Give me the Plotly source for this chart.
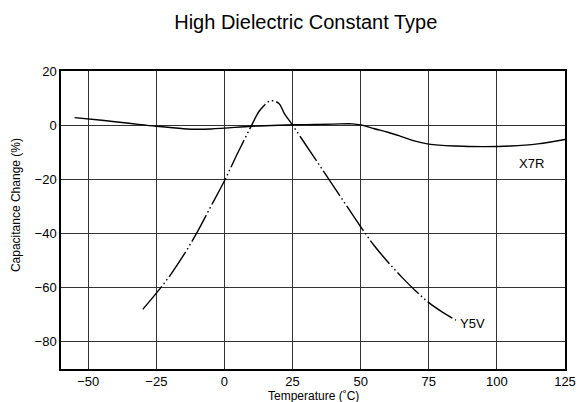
import plotly.graph_objects as go

# X7R curve (temperature in C, capacitance change in %)
x7r_temp = [-55, -45, -35, -25, -15, -10, -5, 0, 10, 20, 30, 40, 47, 50, 55, 60, 65, 70, 75, 85, 95, 105, 115, 125]
x7r_cap = [2.8, 1.8, 0.7, -0.4, -1.3, -1.5, -1.4, -1.1, -0.4, 0.0, 0.2, 0.4, 0.5, 0.1, -1.3, -2.6, -4.2, -5.9, -7.0, -7.7, -7.9, -7.7, -6.9, -5.3]

# Y5V curve
y5v_temp = [-30, -25, -20, -15, -10, -5, 0, 5, 10, 13, 17, 20, 22, 25, 30, 35, 40, 45, 50, 55, 60, 65, 70, 75, 80, 85]
y5v_cap = [-68, -62, -55.5, -48, -39.5, -30, -20.5, -10, 0, 5.5, 9, 8, 4.3, 0, -7.5, -15, -22.5, -30, -37.5, -44.5, -50.5, -56, -61, -65.5, -69, -72]

x_ticks = [-50, -25, 0, 25, 50, 75, 100, 125]
y_ticks = [20, 0, -20, -40, -60, -80]

fig = go.Figure()
fig.add_trace(go.Scatter(
    x=x7r_temp, y=x7r_cap, mode="lines",
    line=dict(color="black", width=1.4, shape="spline", smoothing=1.0),
    name="X7R", showlegend=False,
))
fig.add_trace(go.Scatter(
    x=y5v_temp, y=y5v_cap, mode="lines",
    line=dict(color="black", width=1.4, shape="spline", smoothing=1.0,
              dash="30px,3px,1.5px,3px,1.5px,3px"),
    name="Y5V", showlegend=False,
))

# curve labels
fig.add_annotation(x=112.8, y=-14.2, text="X7R", showarrow=False,
                   font=dict(size=13, color="black"))
fig.add_annotation(x=91.2, y=-73.2, text="Y5V", showarrow=False,
                   font=dict(size=13, color="black"))

# axis titles as annotations (placed like the original)
fig.add_annotation(xref="paper", yref="paper", x=-0.0893, y=0.55, text="Capacitance Change (%)",
                   textangle=-90, showarrow=False, xanchor="center", yanchor="middle",
                   font=dict(size=12, color="black"))
fig.add_annotation(xref="paper", yref="paper", x=0.5, y=-0.089, text="Temperature (˚C)",
                   showarrow=False, xanchor="center", yanchor="middle",
                   font=dict(size=12, color="black"))

axis_common = dict(
    showgrid=True, gridcolor="#333333", gridwidth=1,
    showline=True, linecolor="black", linewidth=1.5, mirror=True,
    zeroline=False, ticks="", tickfont=dict(size=13, color="black"),
)

fig.update_xaxes(range=[-60, 125], tickvals=x_ticks, **axis_common)
fig.update_yaxes(range=[-90, 20], tickvals=y_ticks, **axis_common)

# page body has an 8px margin, so the figure is a little smaller than the window
fig.update_layout(
    width=579, height=394,
    margin=dict(l=53, r=11, t=63, b=33),
    paper_bgcolor="white", plot_bgcolor="white",
    font=dict(family="Liberation Sans, Arial, sans-serif", color="black"),
    title=dict(text="High Dielectric Constant Type", xref="container", x=0.5143,
               xanchor="center", yref="container", y=0.9657, yanchor="middle",
               font=dict(size=20, color="black")),
)

fig.write_html("out.html", config={"displayModeBar": False})
